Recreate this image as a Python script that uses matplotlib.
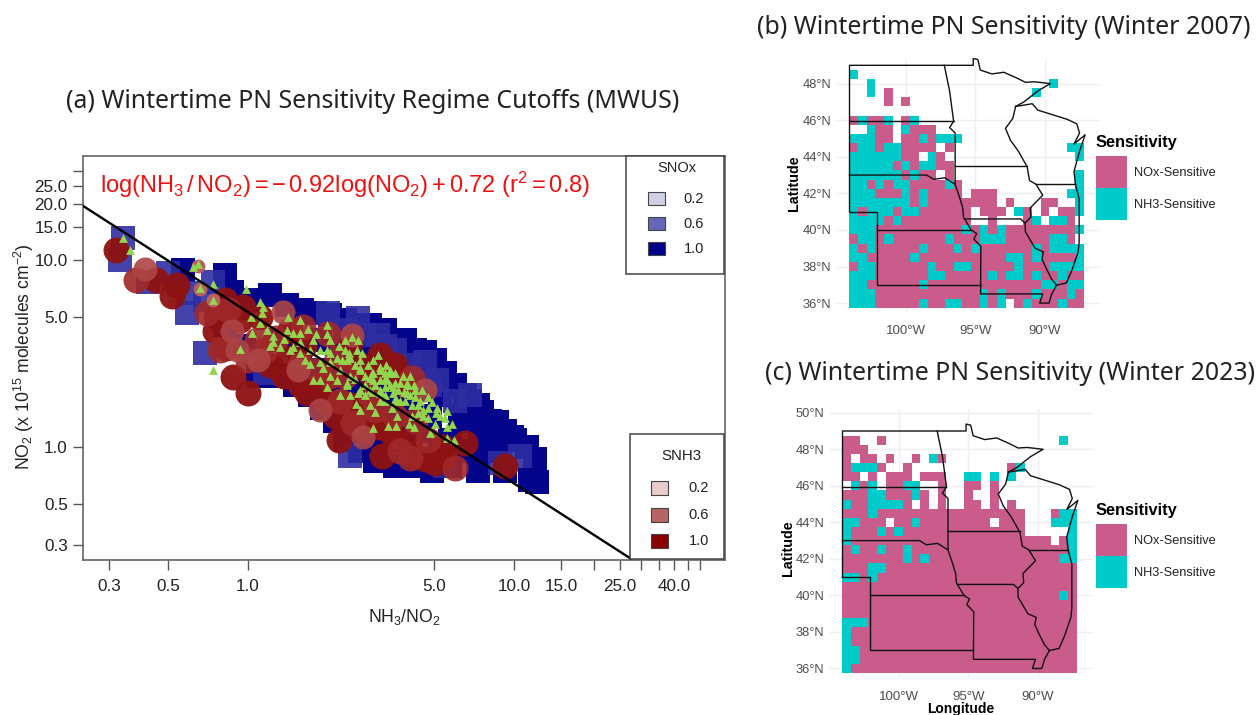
import numpy as np
import matplotlib
matplotlib.use("Agg")
import matplotlib.pyplot as plt
from matplotlib.colors import ListedColormap
from matplotlib.patches import Rectangle

plt.rcParams['font.family'] = ['Liberation Sans', 'DejaVu Sans']
plt.rcParams['mathtext.fontset'] = 'custom'
plt.rcParams['mathtext.rm'] = 'Liberation Sans'
plt.rcParams['mathtext.it'] = 'Liberation Sans'
plt.rcParams['mathtext.bf'] = 'Liberation Sans:bold'
plt.rcParams['mathtext.default'] = 'regular'

W, H = 1256, 715

# scatter values, panel (a): x = NH3/NO2, y = NO2
snox_dark_x = [.57, .82, 1.21, 1.60, .87, 1.02, 1.40, 1.79, 2.03, 2.31, 2.53, 2.87, 3.27, 3.57, 3.89, 4.24, 4.63, 5.05,
               5.5, 5.85, 6.55, 7.3, 8.12, 9.25, 10.1, 11.2, 12.0, 12.2, .82, .97, 1.09, 1.26, 1.50, 1.71, 1.90, 2.12,
               2.31, 2.64, 3.0, 3.57, 4.14, 4.92, 5.74, 7.3, 9.25, 11.5, 1.32, 1.57, 1.87, 2.22, 2.64, 3.13, 3.73, 4.43,
               5.27, 6.26, 7.45, 8.85, 5.74, 4.43, 3.73, 3.13, 2.64, 2.22, 1.87, 1.57, 2.42, 2.87, 3.42, 4.06, 4.83,
               6.83, 5.27, 2.64, 3.13, 4.06, 2.12, 3.89, 4.63, 5.5, 6.83, 8.12,
               5.27, 6.0, 6.83, 7.6, 8.6, 9.8, 3.73, 3.0, 4.43, 3.57]
snox_dark_y = [8.85, 8.3, 6.5, 5.4, 6.8, 6.1, 5.75, 5.25, 5.1, 4.78, 4.5, 4.5, 4.22, 3.73, 3.73, 3.30, 3.22, 2.92,
               2.5, 2.15, 1.9, 1.68, 1.39, 1.23, 1.09, 1.0, .87, .65, 4.5, 3.5, 2.42, 2.42, 2.15, 1.9, 1.62, 1.39,
               1.09, .96, .85, .8, .8, .75, .8, .75, .75, .67, 3.73, 3.30, 3.73, 3.30, 3.30, 2.75, 2.28, 2.02,
               1.9, 1.48, 1.23, 1.03, 1.09, 1.23, 1.39, 1.58, 1.39, 2.02, 2.58, 2.42, 2.42, 2.02, 1.9, 1.68, 1.48,
               .96, .96, 2.02, 1.09, .96, 2.28, 2.92, 2.42, 2.15, 1.39, .96,
               2.42, 2.15, 1.78, 1.54, 1.36, 1.13, 3.1, 3.73, 2.6, 2.75]
snox_mid_x = [.34, .33, .42, .50, .74, .59, .69, 2.0, .60, .69, 1.16, 2.58, 3.07, 3.57, 5.15, 6.0, 8.85, 10.5, 5.5,
              2.42, 4.0, 4.63, 6.83, 2.31, 2.75, 3.27, 4.06, 4.83]
snox_mid_y = [13.2, 10.0, 7.6, 8.5, 7.6, 5.2, 3.2, 5.2, 6.7, 6.1, 2.5, 4.9, 4.0, 3.3, 2.28, 1.78, .83, .9, .8,
              .9, 2.35, 2.85, 1.9, 4.22, 4.0, 3.5, 2.75, 2.15]

snh3_dark_x = [.32, .45, .54, .52, .76, .75, .83, 1.21, .88, 1.0, 1.11, 2.42, 1.67, 1.40, 9.25, 6.55, 5.05, 4.63, 3.42,
               2.7, 5.4, 3.13, 3.5, 1.87, 2.12, 2.42, .96, .82, .93, 1.44, 1.63, 2.75, 4.06,
               3.57, 3.2, 4.25, 5.5, 3.0, 2.2, 2.42, 1.95, 1.57, 1.37, 3.13, 3.57, 2.87, 2.64, 3.89]
snh3_dark_y = [11.3, 7.8, 7.4, 6.4, 4.95, 4.2, 3.4, 2.75, 2.37, 1.95, 4.95, 3.65, 1.95, 3.0, .8, 1.06, .83, .87, 1.23,
               1.68, 1.0, 1.28, 2.42, 2.15, 1.48, 1.39, 5.6, 6.1, 4.78, 4.22, 3.5, 1.23, 1.09,
               1.09, .9, .9, .9, 1.39, 1.09, 1.68, 1.78, 2.15, 2.42, 3.1, 2.75, 2.5, 2.75, 2.15]
snh3_mid_x = [.38, .70, .84, 1.08, 1.0, 1.28, 1.61, 2.0, 1.82, 2.16, 4.14, 6.0, 4.06, 4.75, 3.73, 2.48, 2.22, 2.87,
              1.57, 2.31, 3.0, 1.16, .785, 3.57, 4.25, 2.03]
snh3_mid_y = [7.8, 5.2, 5.4, 3.73, 2.92, 3.85, 4.4, 4.05, 2.58, 3.0, 2.35, .78, .88, 1.09, .96, 1.35, 1.78, 1.9,
              2.75, 2.42, 1.58, 3.3, 3.3, 1.48, 1.39, 2.42]
snh3_light_x = [.41, .87, .91, 1.35, 2.46, 1.54, 4.63, 2.7, 1.87, 1.09]
snh3_light_y = [9.0, 4.2, 3.3, 5.3, 3.97, 2.58, 2.02, 1.13, 1.58, 2.92]
snh3_small_x = [.65, .66, .74]
snh3_small_y = [9.3, 7.0, 6.1]

both_x = [.34, .36, .62, .65, .74, .66, .98, .74, 1.11, 1.14, 1.03, 1.13, 1.41, .93, .74, 1.11, 1.04, 1.18, 1.24, 1.40,
          1.68, 1.48, 1.57, 1.98, 2.46, 2.57, 1.76, 2.03, 1.32, 1.24, 1.48, 1.57, 1.87, 2.16, 2.42, 2.64, 1.71, 1.92,
          1.76, 2.16, 2.36, 1.98, 2.64, 2.87, 3.13, 3.42, 3.5, 3.13, 2.64, 2.36, 2.64, 3.13, 3.42, 4.06, 3.95, 2.96,
          3.27, 3.5, 3.95, 4.43, 4.14, 4.73, 5.15, 5.6, 5.1, 4.73, 5.5, 5.85, 5.6, 5.05, 4.35, 4.02, 4.2, 3.6, 3.35,
          2.96, 2.55, 3.0, 3.62, 4.83, 5.6, 5.95, 2.36, 2.6, 3.13, 3.33, 3.73, 4.24, 4.55, 3.62, 3.27, 2.87, 2.75,
          2.96, 3.27, 3.57, 3.85, 2.92, 4.06, 4.24, 3.13, 3.42, 2.42, 2.22, 2.03, 1.87, 2.31, 1.57, 1.71, 1.98, 2.75,
          2.53, 2.25, 2.96,
          2.03, 2.2, 2.4, 2.53, 2.68, 2.82, 3.07, 3.3, 3.57, 3.82, 4.2, 4.5, 4.75, 3.9, 4.35, 4.92, 3.47, 3.27, 2.87,
          2.64, 2.42, 2.22, 2.03, 1.87, 1.64, 1.44, 1.37, 1.8, 1.98, 1.57, 1.21, 2.31, 2.6, 2.92, 3.13, 3.65, 3.95,
          3.0, 3.27, 2.75, 3.73, 4.14, 4.55, 5.27, 3.57]
both_y = [13.2, 11.4, 9.2, 9.5, 7.5, 7.1, 7.0, 6.1, 6.0, 5.6, 5.0, 5.2, 5.0, 3.35, 2.58, 4.6, 4.06, 4.22, 3.95, 4.22,
          4.3, 4.1, 4.1, 4.05, 3.88, 3.3, 3.73, 3.73, 3.43, 3.65, 3.43, 3.18, 3.3, 3.0, 3.0, 2.92, 2.8, 2.65,
          2.28, 2.28, 2.2, 2.1, 2.58, 2.35, 2.58, 2.5, 2.1, 2.02, 2.02, 2.92, 2.65, 2.7, 2.58, 2.42, 2.22, 2.28,
          2.1, 1.95, 1.95, 1.78, 1.68, 1.62, 1.62, 1.56, 1.52, 1.43, 1.43, 1.34, 1.28, 1.34, 1.52, 1.34, 1.28, 1.3, 1.3,
          1.27, 1.7, 1.54, 1.48, 1.2, 1.12, 1.09, 2.15, 1.95, 1.95, 2.28, 2.2, 1.85, 1.58, 1.78, 1.78, 2.02, 2.42,
          2.5, 2.32, 2.2, 1.97, 1.98, 1.9, 2.02, 1.78, 2.15, 2.42, 2.58, 2.85, 2.85, 3.3, 3.65, 3.3, 3.3, 2.15,
          2.32, 2.92, 2.92,
          3.2, 3.5, 3.2, 2.75, 3.2, 2.75, 3.1, 2.75, 2.5, 2.42, 2.15, 2.02, 1.85, 1.78, 1.68, 1.74, 1.62, 1.9, 1.68,
          1.58, 1.9, 1.9, 2.42, 2.28, 2.92, 3.3, 3.8, 4.05, 4.5, 4.78, 3.5, 3.73, 3.73, 2.5, 2.28, 2.02, 2.15,
          2.15, 2.5, 1.9, 1.78, 1.48, 1.48, 1.48, 1.82]

line_x = [0.24, 27.4]
line_y = [19.5, 0.255]

x_ticks = [0.3, 0.5, 1, 5, 10, 15, 20, 25, 30, 35, 40, 45, 50]
x_labels = ['0.3', '0.5', '1.0', '5.0', '10.0', '15.0', '', '25.0', '', '', '40.0', '', '']
y_ticks = [0.3, 0.5, 1, 5, 10, 15, 20, 25, 30]
y_labels = ['0.3', '0.5', '1.0', '5.0', '10.0', '15.0', '20.0', '25.0', '']
legend_values = ['0.2', '0.6', '1.0']

# sensitivity cells, north row first, p NOx / t NH3 / . no regime
sens_2007 = [
    "t..........................",
    "..t....................t...",
    "..t.p................t.....",
    "....p.p....................",
    "...........................",
    "ptppt.pt...................",
    "..tpp.tppp.................",
    "tttpp.pptpttt..............",
    "pttpttpppp.p.............tt",
    "ttttttpp.tp...............t",
    "tttttptpttpp...............",
    "ttttttptpp.p..............t",
    "ttptpttpppptp.............t",
    "tttppptptpppp.ppp........tt",
    "tttttttptpppppppp.p...pp..t",
    "tptttpttpppppp.ppp.tp.p.ppt",
    "ttttptpppppppp..p...pt.ttp.",
    "tttpppppppppptptptppppppppt",
    "pttptpppppptppptttppppptt" + "p.",
    "tptpppppt" + "ppptptpppppptptttt",
    "ttppppptppppppppppttptppppt",
    "pttppppppt" + "pptt" + "ppppptppptttt",
    "tttppppppttpppppt" + "pttptpptpp",
    "ttpppppptppppppppppppp" + "ttptt",
    "tttpppppppppppp" + "tptppptppptp",
    "tttppppptpptt" + "pptpt.ptppptpp",
]
sens_2023 = [
    "pp..p....................t.",
    "ppp........................",
    "p.pp.p..p.tp...............",
    "ptttp..p...........pt......",
    "pp.p.ppp.ppp..tt.t.t.......",
    ".tpt.pptt..p..pp.p.........",
    "ppptt" + "ppptp.p..p..p.........",
    "tpptttt" + "p.p.p..pp.p.p.......",
    "ppptp" + "pppppppppppppppp...ptt",
    "ttppp.pptpppppppp.ppp...ttt",
    "tppptpt" + "pppppppppppppp.....t",
    "tppppppppppppppppppppppp.pt",
    "ptpptpptpppppppppppppppppp" + "t",
    "ppppppptptppppppppppppppptt",
    "pppttpppppppppppppppppppppp",
    "ttptppppppppppppppppppppppp",
    "ppppppppppppppppppppppppppp",
    "ppppppppppppppppppppppppptp",
    "ppppppppppppppppppppppppppp",
    "ppppppppppppppppppppppppppp",
    "tttpppppppppppppppppppppppp",
    "tpppppppppppppppppppppppppp",
    "tpppppppppppppppppppppppppp",
    "ttppppppppppppppppppppppppp",
    "ttppppppppppppppppppppppppp",
    "tpppppppppppppppppppppppppp",
]

# state outlines (lon, lat)
border_north = [(-104.05, 41), (-104.05, 49), (-95.15, 49), (-95.15, 49.38), (-94.82, 49.32), (-94.64, 48.74),
                (-93.8, 48.53), (-92.95, 48.62), (-92.0, 48.3), (-91.4, 48.07), (-90.75, 48.1), (-89.6, 48.0),
                (-90.5, 47.6), (-91.5, 47.0), (-92.1, 46.75)]
border_nd_sd = [(-104.05, 45.94), (-96.56, 45.94)]
border_sd_ne = [(-104.05, 43), (-98.5, 43), (-98.0, 42.77), (-97.2, 42.85), (-96.45, 42.49)]
border_ne_co = [(-104.05, 41), (-102.05, 41), (-102.05, 37), (-94.62, 37)]
border_ks_ne = [(-102.05, 40), (-95.3, 40)]
border_mo_west = [(-96.45, 43.5), (-96.45, 42.49), (-96.1, 41.7), (-95.9, 41.2), (-95.85, 40.7), (-95.3, 40.0),
                  (-94.9, 39.8), (-95.1, 39.5), (-94.6, 39.1), (-94.62, 36.5), (-90.15, 36.5), (-90.37, 36.0),
                  (-89.7, 36.0), (-89.5, 36.5), (-89.15, 36.98)]
border_mississippi = [(-89.15, 36.98), (-89.5, 37.3), (-89.9, 37.9), (-90.2, 38.4), (-90.1, 38.8), (-90.7, 39.0),
                      (-91.4, 39.9), (-91.42, 40.38), (-91.0, 40.7), (-91.05, 41.2), (-90.15, 41.9), (-90.64, 42.5),
                      (-91.1, 42.7), (-91.27, 43.45), (-91.9, 44.3), (-92.47, 44.9), (-92.83, 45.55), (-92.3, 46.1),
                      (-92.1, 46.75)]
border_ia_mo = [(-95.77, 40.6), (-91.73, 40.6), (-91.42, 40.38)]
border_ia_mn = [(-96.45, 43.5), (-91.27, 43.5)]
border_wi_il = [(-90.64, 42.5), (-87.8, 42.5)]
border_il_east = [(-87.8, 42.5), (-87.53, 41.7), (-87.53, 39.35), (-87.6, 38.8), (-88.05, 37.8), (-88.45, 37.1),
                  (-89.15, 36.98)]
border_mn_west = [(-97.23, 49), (-96.85, 47.6), (-96.56, 45.94), (-96.85, 45.6), (-96.45, 45.3), (-96.45, 43.5)]
border_wi_north = [(-92.1, 46.75), (-90.9, 46.9), (-90.5, 46.55), (-88.4, 46.05), (-87.7, 45.8), (-87.5, 45.3),
                   (-87.9, 44.7), (-87.1, 45.2), (-87.5, 44.3), (-87.9, 43.2), (-87.8, 42.5)]
borders = [border_north, border_nd_sd, border_sd_ne, border_ne_co, border_ks_ne, border_mo_west, border_mississippi,
           border_ia_mo, border_ia_mn, border_wi_il, border_il_east, border_mn_west, border_wi_north]

lon_ticks = [-100, -95, -90]
lon_labels = ['100°W', '95°W', '90°W']
lat_ticks_b = [36, 38, 40, 42, 44, 46, 48]
lat_ticks_c = [36, 38, 40, 42, 44, 46, 48, 50]

pink = '#C95C8B'
teal = '#00CBCB'


def fx(px):
    return px / W


def fy(py):
    return 1 - py / H


def px_axes(fig, left, top, right, bottom):
    return fig.add_axes([fx(left), fy(bottom), (right - left) / W, (bottom - top) / H])


def put_text(fig, px, py, s, **kw):
    kw.setdefault('ha', 'left')
    kw.setdefault('va', 'center')
    return fig.text(fx(px), fy(py), s, **kw)


def put_box(fig, left, top, right, bottom, **kw):
    r = Rectangle((fx(left), fy(bottom)), (right - left) / W, (bottom - top) / H, transform=fig.transFigure, **kw)
    fig.add_artist(r)
    return r


def draw_map(fig, rect, grid, lat_ticks, ylim):
    ax = px_axes(fig, *rect)
    codes = np.array([[{'.': np.nan, 'p': 0, 't': 1}[c] for c in row.ljust(27, '.')[:27]] for row in grid[::-1]])
    lon_edges = -104.06 + 0.625 * np.arange(28)
    lat_edges = 35.75 + 0.5 * np.arange(27)
    ax.set_axisbelow(True)
    ax.grid(color='#EFEFEF', lw=1)
    ax.pcolormesh(lon_edges, lat_edges, np.ma.masked_invalid(codes), cmap=ListedColormap([pink, teal]),
                  vmin=0, vmax=1, zorder=2)
    for b in borders:
        pts = np.array(b)
        ax.plot(pts[:, 0], pts[:, 1], color='#111111', lw=1.0, zorder=3)
    ax.set_xlim(-104.95, -86.03)
    ax.set_ylim(*ylim)
    ax.set_xticks(lon_ticks, lon_labels)
    ax.set_yticks(lat_ticks, ['%d°N' % v for v in lat_ticks])
    ax.tick_params(length=0, labelsize=9.5, labelcolor='#4D4D4D')
    ax.tick_params(axis='x', pad=10)
    ax.tick_params(axis='y', pad=4, labelsize=9.3)
    for s in ax.spines.values():
        s.set_visible(False)
    return ax


def map_legend(fig, top):
    put_text(fig, 1096, top, 'Sensitivity', fontsize=11.8, fontweight='bold', color='black')
    put_box(fig, 1096, top + 14, 1127, top + 46, facecolor=pink, edgecolor='none')
    put_box(fig, 1096, top + 46, 1127, top + 78, facecolor=teal, edgecolor='none')
    put_text(fig, 1134, top + 31, 'NOx-Sensitive', fontsize=9.2, color='#222222')
    put_text(fig, 1134, top + 63, 'NH3-Sensitive', fontsize=9.2, color='#222222')


fig = plt.figure(figsize=(W / 100, H / 100), dpi=100)

# panel (a)
ax = px_axes(fig, 83, 156, 725, 559.5)
ax.set_xscale('log')
ax.set_yscale('log')
ax.scatter(snox_dark_x, snox_dark_y, s=310, marker='s', color='#05058C', linewidths=0)
ax.scatter(snox_mid_x, snox_mid_y, s=300, marker='s', color='#2E2EA2', linewidths=0, alpha=0.9)
ax.scatter(snh3_dark_x, snh3_dark_y, s=350, marker='o', color='#8E1212', linewidths=0, alpha=0.95)
ax.scatter(snh3_mid_x, snh3_mid_y, s=350, marker='o', color='#A02828', linewidths=0, alpha=0.9)
ax.scatter(snh3_light_x, snh3_light_y, s=300, marker='o', color='#AD4545', linewidths=0, alpha=0.9)
ax.scatter(snh3_small_x, snh3_small_y, s=100, marker='o', color='#B86060', linewidths=0)
ax.scatter(both_x, both_y, s=40, marker='^', color='#92D64E', linewidths=0, zorder=3)
ax.plot(line_x, line_y, color='black', lw=1.7, zorder=4)
ax.set_xlim(0.24, 62)
ax.set_ylim(0.252, 36)
ax.set_xticks(x_ticks, x_labels)
ax.set_yticks(y_ticks, y_labels)
ax.minorticks_off()
ax.tick_params(length=7, width=1, color='#555555', labelsize=12.3, labelcolor='#222222')
ax.tick_params(axis='x', pad=7)
ax.tick_params(axis='y', pad=4)
for s in ax.spines.values():
    s.set_color('#666666')
    s.set_linewidth(1.2)

put_text(fig, 66, 101, '(a) Wintertime PN Sensitivity Regime Cutoffs (MWUS)', fontsize=17.9, family='Noto Sans',
         color='#222222')
put_text(fig, 24, 357, r'NO$_2$ (x 10$^{15}$ molecules cm$^{-2}$)', fontsize=12.7, rotation=90, ha='center',
         color='#222222')
put_text(fig, 404, 617, r'NH$_3$/NO$_2$', fontsize=12.7, ha='center', color='#222222')
put_text(fig, 100, 185, r'$\log(NH_3\,/\,NO_2)=-\,0.92\log(NO_2)+0.72\ (r^2=0.8)$', fontsize=17, color='#EE1111')

# SNOx legend
put_box(fig, 626, 156, 724, 274, facecolor='white', edgecolor='#444444', lw=1.1)
put_text(fig, 677, 168, 'SNOx', fontsize=10.5, ha='center', color='#222222')
for i, c in enumerate(['#CFCFE8', '#6666BB', '#00008B']):
    put_box(fig, 647.5, 192 + 25.2 * i, 665, 204.5 + 25.2 * i, facecolor=c, edgecolor='#444444', lw=0.8)
    put_text(fig, 694, 199 + 25.2 * i, legend_values[i], fontsize=10.5, ha='center', color='#222222')

# SNH3 legend
put_box(fig, 630, 434, 724, 559, facecolor='white', edgecolor='#444444', lw=1.1)
put_text(fig, 681, 456, 'SNH3', fontsize=10.8, ha='center', color='#222222')
for i, c in enumerate(['#E8CCCC', '#B86464', '#8B0000']):
    put_box(fig, 651, 481 + 26.7 * i, 668, 495 + 26.7 * i, facecolor=c, edgecolor='#444444', lw=0.8)
    put_text(fig, 699, 488 + 26.7 * i, legend_values[i], fontsize=10.5, ha='center', color='#222222')

# panels (b) and (c)
draw_map(fig, (837, 58, 1100, 311.5), sens_2007, lat_ticks_b, (35.54, 49.4))
draw_map(fig, (830, 410, 1092.7, 676.7), sens_2023, lat_ticks_c, (35.55, 50.15))
put_text(fig, 757, 28, '(b) Wintertime PN Sensitivity (Winter 2007)', fontsize=17.9, family='Noto Sans', color='#222222')
put_text(fig, 765, 374, '(c) Wintertime PN Sensitivity (Winter 2023)', fontsize=17.9, family='Noto Sans', color='#222222')
put_text(fig, 794, 183, 'Latitude', fontsize=10.3, fontweight='bold', rotation=90, ha='center')
put_text(fig, 788, 548, 'Latitude', fontsize=10.3, fontweight='bold', rotation=90, ha='center')
put_text(fig, 961, 709, 'Longitude', fontsize=10, fontweight='bold', ha='center')
map_legend(fig, 142)
map_legend(fig, 510)

fig.savefig('out.png', dpi=100)
